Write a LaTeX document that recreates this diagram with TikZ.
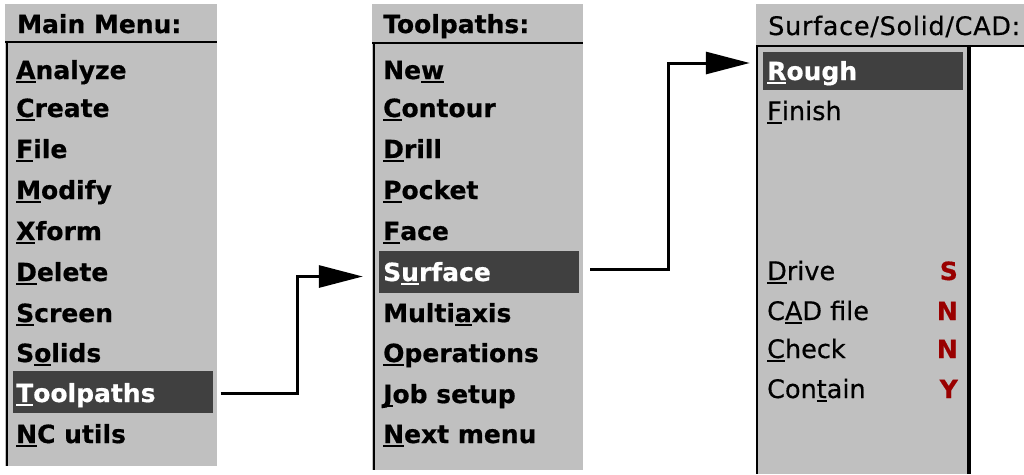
\documentclass[tikz,border=0pt]{standalone}
\usepackage{fontspec}
\setmainfont{DejaVu Sans}
\newfontfamily\heavyfont[FakeBold=0.6]{DejaVu Sans Bold}
\newfontfamily\plainfont[FakeBold=0.5]{DejaVu Sans}
\newfontfamily\widefont[FakeBold=0.5, LetterSpace=2.8]{DejaVu Sans}
\usetikzlibrary{arrows.meta}
\pgfdeclarelayer{bg}
\pgfsetlayers{bg,main}
\definecolor{menugray}{HTML}{C0C0C0}
\definecolor{hidark}{HTML}{404040}
\definecolor{flagred}{HTML}{990000}
\newcommand\mnem[1]{\setbox0\hbox{#1}\rlap{\rule[-3.5pt]{\wd0}{2pt}}\box0}
\tikzset{
    item/.style={anchor=base west, inner sep=0pt, font=\fontsize{25}{25}\heavyfont},
    subitem/.style={anchor=base west, inner sep=0pt, font=\fontsize{25.5}{25}\plainfont},
    flag/.style={anchor=base east, inner sep=0pt, text=flagred, font=\fontsize{25}{25}\heavyfont},
    hlbar/.style={fill=hidark, inner sep=0pt, minimum width=200pt, minimum height=42pt},
    link/.style={line width=3pt, -{Triangle[length=44pt,width=22pt]}}
}

\begin{document}
\begin{tikzpicture}[x=1pt, y=-1pt]
  \useasboundingbox (0,0) rectangle (1024,474);

  \node[hlbar] (hlTool) at (112.5,391.5) {};
  \node[hlbar] (hlSurf) at (479,271.5) {};
  \node[hlbar, minimum height=38pt] (hlRough) at (863,71) {};

  % main menu
  \node[item] (mhead) at (17,33) {Main Menu:};
  \node[item] (m1) at (16,79) {\mnem{A}nalyze};
  \node[item] (m2) at (16,117) {\mnem{C}reate};
  \node[item] (m3) at (16,158) {\mnem{F}ile};
  \node[item] (m4) at (16,199) {\mnem{M}odify};
  \node[item] (m5) at (16,240) {\mnem{X}form};
  \node[item] (m6) at (16,281) {\mnem{D}elete};
  \node[item] (m7) at (16,322) {\mnem{S}creen};
  \node[item] (m8) at (16,362) {S\mnem{o}lids};
  \node[item, text=white] (m9) at (16,402) {\mnem{T}oolpaths};
  \node[item] (m10) at (16,443) {\mnem{N}C utils};

  % toolpaths menu
  \node[item] (thead) at (383,33) {Toolpaths:};
  \node[item] (t1) at (383,79) {Ne\mnem{w}};
  \node[item] (t2) at (383,117) {\mnem{C}ontour};
  \node[item] (t3) at (383,158) {\mnem{D}rill};
  \node[item] (t4) at (383,199) {\mnem{P}ocket};
  \node[item] (t5) at (383,240) {\mnem{F}ace};
  \node[item, text=white] (t6) at (383,281) {S\mnem{u}rface};
  \node[item] (t7) at (383,322) {Multi\mnem{a}xis};
  \node[item] (t8) at (383,362) {\mnem{O}perations};
  \node[item] (t9) at (383,403) {\mnem{J}ob setup};
  \node[item] (t10) at (383,443) {\mnem{N}ext menu};

  % surface menu
  \node[subitem, font=\fontsize{25.5}{25}\widefont] (shead) at (768,35) {Surface/Solid/CAD:};
  \node[item, text=white] (s1) at (767,80) {\mnem{R}ough};
  \node[subitem] (s2) at (767,120) {\mnem{F}inish};
  \node[subitem] (s3) at (767,280) {\mnem{D}rive};
  \node[subitem] (s4) at (767,320) {C\mnem{A}D file};
  \node[subitem] (s5) at (767,358) {\mnem{C}heck};
  \node[subitem] (s6) at (767,398) {Con\mnem{t}ain};

  \node[flag] (f3) at (958,280) {S};
  \node[flag] (f4) at (958,320) {N};
  \node[flag] (f5) at (958,358) {N};
  \node[flag] (f6) at (958,398) {Y};

  \begin{pgfonlayer}{bg}
	  \fill[menugray] (5,4) rectangle (217,466);
	  \fill[menugray] (372,4) rectangle (583,470);
	  \fill[menugray] (756,4) rectangle (1024,45);
	  \fill[menugray] (756,45) rectangle (970,474);

	  \draw[line width=2.5pt] (5,42) -- (217,42);
	  \draw[line width=2.5pt] (7,42) -- (7,466);
	  \draw[line width=2.5pt] (372,43) -- (583,43);
	  \draw[line width=2.5pt] (374,43) -- (374,470);
	  \draw[line width=2.5pt] (756,46) -- (1024,46);
	  \draw[line width=2.5pt] (757,46) -- (757,474);
	  \draw[line width=3.5pt] (969,46) -- (969,474);
  \end{pgfonlayer}

  \draw[link] ([xshift=8pt,yshift=-2pt]hlTool.east) -- ++(77,0)
      |- ([xshift=-16pt,yshift=-5pt]hlSurf.west);
  \draw[link] ([xshift=11pt,yshift=2pt]hlSurf.east) -- ++(78,0)
      |- ([xshift=-13pt,yshift=8pt]hlRough.west);
\end{tikzpicture}
\end{document}
